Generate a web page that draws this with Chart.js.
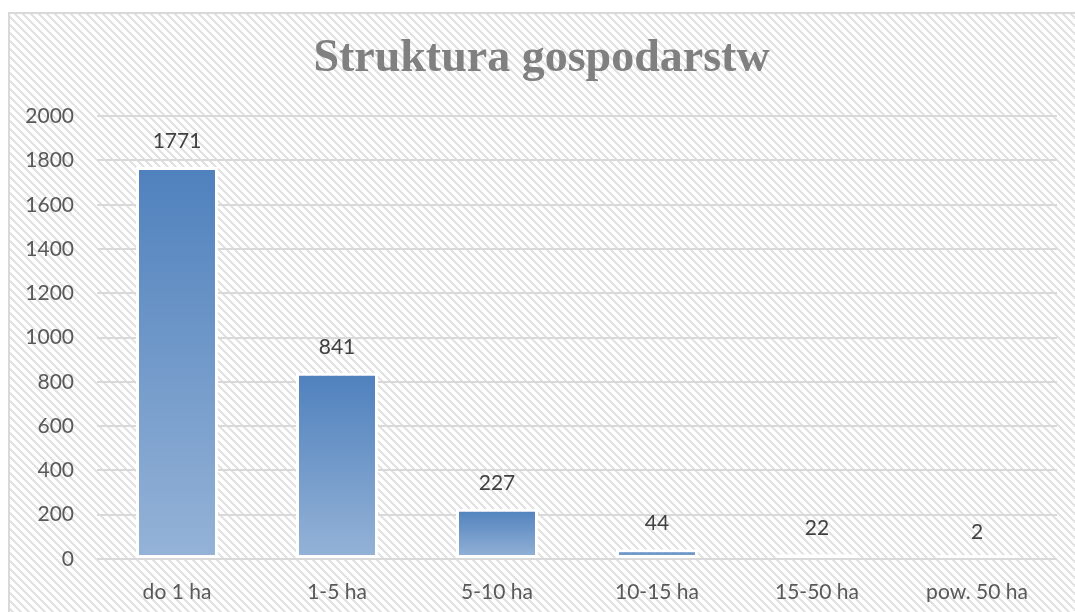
<!DOCTYPE html>
<html>
<head>
<meta charset="utf-8">
<script src="https://cdn.jsdelivr.net/npm/chart.js@4/dist/chart.umd.min.js"></script>
<style>
  html, body { margin: 0; padding: 0; background: #ffffff; }
  #wrap { width: 1075px; height: 612px; }
</style>
</head>
<body>
<div id="wrap"><canvas id="c" width="1075" height="612"></canvas></div>
<script>
const categories = ['do 1 ha', '1-5 ha', '5-10 ha', '10-15 ha', '15-50 ha', 'pow. 50 ha'];
const values = [1771, 841, 227, 44, 22, 2];
const chartTitle = 'Struktura gospodarstw';
const yMin = 0, yMax = 2000, yStep = 200;

function makePattern(ctx) {
  const p = document.createElement('canvas');
  p.width = 8; p.height = 8;
  const pc = p.getContext('2d');
  pc.fillStyle = '#ffffff';
  pc.fillRect(0, 0, 8, 8);
  pc.fillStyle = '#e2e2e2';
  for (let j = 0; j < 8; j++) {
    for (let i = 0; i < 8; i++) {
      const d = ((i - j) % 8 + 8) % 8;
      if (d < 3) pc.fillRect(i, j, 1, 1);
    }
  }
  return ctx.createPattern(p, 'repeat');
}

const bgPlugin = {
  id: 'bg',
  beforeDraw(chart) {
    const ctx = chart.ctx;
    ctx.save();
    ctx.fillStyle = '#ffffff';
    ctx.fillRect(0, 0, chart.width, chart.height);
    ctx.fillStyle = makePattern(ctx);
    ctx.fillRect(9, 13, chart.width - 9, chart.height - 13);
    ctx.strokeStyle = '#d9d9d9';
    ctx.lineWidth = 2;
    ctx.beginPath();
    ctx.moveTo(9, chart.height);
    ctx.lineTo(9, 13);
    ctx.lineTo(chart.width, 13);
    ctx.stroke();
    ctx.restore();
  }
};

const labelPlugin = {
  id: 'valueLabels',
  afterDatasetsDraw(chart) {
    const ctx = chart.ctx;
    const meta = chart.getDatasetMeta(0);
    const ys = chart.scales.y;
    ctx.save();
    ctx.font = '21px Lato';
    ctx.fillStyle = '#404040';
    ctx.textAlign = 'center';
    ctx.textBaseline = 'middle';
    meta.data.forEach((el, i) => {
      ctx.fillText(String(values[i]), el.x, ys.getPixelForValue(values[i]) - 26);
    });
    ctx.restore();
  }
};

function barGradient(context) {
  const chart = context.chart;
  const y = chart.scales && chart.scales.y;
  if (!chart.chartArea || !y || context.type !== 'data') return '#4f81bd';
  const top = y.getPixelForValue(context.raw);
  const bot = y.getPixelForValue(0);
  const g = chart.ctx.createLinearGradient(0, top, 0, bot === top ? top + 1 : bot);
  g.addColorStop(0, '#4f81bd');
  g.addColorStop(1, '#95b3d7');
  return g;
}

new Chart(document.getElementById('c'), {
  type: 'bar',
  data: {
    labels: categories,
    datasets: [{
      data: values,
      backgroundColor: barGradient,
      borderColor: '#ffffff',
      borderWidth: 3,
      borderSkipped: false,
      minBarLength: 4,
      barPercentage: 0.5125,
      categoryPercentage: 1.0
    }]
  },
  options: {
    responsive: false,
    devicePixelRatio: 1,
    animation: false,
    layout: { padding: { left: 26, right: 18, top: 13, bottom: 10 } },
    plugins: {
      legend: { display: false },
      tooltip: { enabled: false },
      title: {
        display: true,
        text: chartTitle,
        color: '#808080',
        font: { family: 'Liberation Serif', size: 46, weight: 'bold', lineHeight: 1.2 },
        padding: { top: 19, bottom: 29 }
      }
    },
    scales: {
      x: {
        afterFit(scale) { scale.height = 43; },
        grid: { display: false, drawTicks: false },
        border: { display: false },
        ticks: { color: '#595959', font: { family: 'Lato', size: 21 }, padding: 21 }
      },
      y: {
        min: yMin,
        max: yMax,
        afterFit(scale) { scale.width = 71; },
        grid: { color: '#d9d9d9', lineWidth: 2, drawTicks: false },
        border: { display: false },
        ticks: {
          stepSize: yStep,
          color: '#595959',
          font: { family: 'Lato', size: 21 },
          padding: 23,
          callback: (v) => String(v)
        }
      }
    }
  },
  plugins: [bgPlugin, labelPlugin]
});
</script>
</body>
</html>
